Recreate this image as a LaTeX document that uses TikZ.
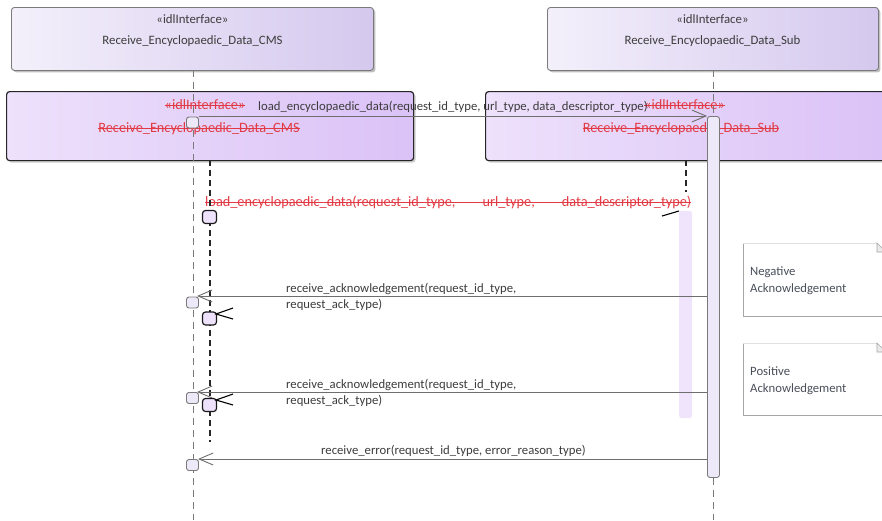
\documentclass[tikz,border=0pt]{standalone}
\usepackage{fontspec}
\setmainfont{Carlito}
\usetikzlibrary{arrows.meta,shadows}
\definecolor{txt}{HTML}{3C3C3C}
\definecolor{redtxt}{HTML}{E23A44}
\definecolor{lineg}{HTML}{6E6E6E}
\definecolor{lifeg}{HTML}{7A7A7A}
\definecolor{topL}{HTML}{F3F0FB}
\definecolor{topR}{HTML}{D5C8EE}
\definecolor{bigL}{HTML}{EDE1FB}
\definecolor{bigR}{HTML}{DBC2F7}
\definecolor{actfill}{HTML}{EDE9F8}
\definecolor{ghost}{HTML}{EFE4FC}
\definecolor{notetxt}{HTML}{4A4F5A}
\tikzset{
  topbox/.style={draw=lifeg, line width=0.9pt, rounded corners=3pt, left color=topL, right color=topR,
    anchor=north west, inner sep=0pt,
    drop shadow={shadow xshift=2pt,shadow yshift=-2pt,opacity=0.25,fill=black}},
  bigbox/.style={draw=black!85, line width=1.2pt, rounded corners=3pt, left color=bigL, right color=bigR,
    anchor=north west, inner sep=0pt,
    drop shadow={shadow xshift=2pt,shadow yshift=-2pt,opacity=0.2,fill=black}},
  blacktext/.style={text=txt, font=\fontsize{12.8}{16}\selectfont, inner sep=0pt, anchor=base},
  redtext/.style={text=redtxt, font=\fontsize{14.3}{17}\selectfont, inner sep=0pt, anchor=base},
  msglabel/.style={text=txt, font=\fontsize{12.7}{16}\selectfont, inner sep=0pt, anchor=base west, align=left},
  notelabel/.style={text=notetxt, font=\fontsize{12.7}{17}\selectfont, inner sep=0pt, anchor=base west, align=left},
  grayline/.style={draw=lifeg, line width=0.9pt, dash pattern=on 7pt off 5pt},
  blackline/.style={draw=black!85, line width=1.2pt, dash pattern=on 6pt off 4pt},
  msg/.style={draw=lineg, line width=0.9pt},
  opentip/.style={-{Straight Barb[length=14pt,width=12pt,line width=0.9pt]}},
  graysq/.style={draw=lifeg, line width=0.9pt, fill=actfill, rounded corners=2.5pt, minimum width=12pt, minimum height=11pt, inner sep=0pt},
  blacksq/.style={draw=black!90, line width=1.2pt, fill=bigL, rounded corners=3pt, minimum width=14pt, minimum height=13pt, inner sep=0pt},
  strike/.style={draw=redtxt, line width=1pt},
  notebox/.style={draw=black!35, line width=0.8pt},
}
\begin{document}
\begin{tikzpicture}[x=1pt,y=-1pt]
\useasboundingbox (0,0) rectangle (882,520);
\clip (0,0) rectangle (882,520);

% big (struck-out) boxes
\node[bigbox, minimum width=407pt, minimum height=69pt] (bigA) at (6,91) {};
\node[bigbox, minimum width=405pt, minimum height=69pt] (bigB) at (485,91) {};

% top boxes
\node[topbox, minimum width=362pt, minimum height=63pt] (topA) at (11,7) {};
\node[topbox, minimum width=331pt, minimum height=63pt] (topB) at (547,7) {};
\node[blacktext] (topAst) at (192.5,23) {«idlInterface»};
\node[blacktext] (topAnm) at (192.5,44) {Receive\_Encyclopaedic\_Data\_CMS};
\node[blacktext] (topBst) at (712.5,23) {«idlInterface»};
\node[blacktext] (topBnm) at (712.5,44) {Receive\_Encyclopaedic\_Data\_Sub};

% red struck-out texts
\node[redtext] (bigAst) at (205,109.5) {«idlInterface»};
\node[redtext] (bigAnm) at (199,132.5) {Receive\_Encyclopaedic\_Data\_CMS};
\node[redtext] (bigBst) at (684.5,109.5) {«idlInterface»};
\node[redtext] (bigBnm) at (681,132.5) {Receive\_Encyclopaedic\_Data\_Sub};
\node[redtext, anchor=base west] (loadR) at (205,206.5) {load\_encyclopaedic\_data(request\_id\_type,\hspace{27pt}url\_type,\hspace{27pt}data\_descriptor\_type)};
\foreach \n in {bigAst,bigAnm,bigBst,bigBnm,loadR}
  \draw[strike] ([yshift=3.6pt]\n.base west) -- ([yshift=3.6pt]\n.base east);

% lifelines
\coordinate (llA0) at (193,70);
\coordinate (llA1) at (193,520);
\coordinate (llB0) at (713,70);
\coordinate (llB1) at (713,520);
\draw[grayline] (llA0) -- (llA1);
\draw[grayline] (llB0) -- (llB1);
\coordinate (blA0) at (210,160);
\coordinate (blA1) at (210,442);
\coordinate (blB0) at (686,160);
\coordinate (blB1) at (686,192);
\draw[blackline] (blA0) -- (blA1);
\draw[blackline] (blB0) -- (blB1);

% ghost activation bar
\fill[ghost, rounded corners=2.5pt] (679,211) rectangle (692,418);
% stray tick
\coordinate (tk0) at (662,216);
\coordinate (tk1) at (679,211);
\draw[black, line width=1.1pt] (tk0) -- (tk1);

% activation bar on Sub
\node[draw=lifeg, line width=0.9pt, fill=actfill, rounded corners=2.5pt, anchor=north west,
  minimum width=12pt, minimum height=361pt, inner sep=0pt] (act) at (707,116) {};

% notes
\fill[white] (743,243) rectangle (890,316);
\draw[notebox] (743,243) -- (743,316) -- (890,316);
\draw[draw=black!12, line width=0.6pt] (743,243) -- (877,243);
\filldraw[fill=black!8, draw=black!35, line width=0.6pt] (877,243) -- (877,252) -- (886,252) -- cycle;
\node[notelabel] (noteN) at (750,292) {Negative\\Acknowledgement};
\fill[white] (743,343) rectangle (890,415);
\draw[notebox] (743,343) -- (743,415) -- (890,415);
\draw[draw=black!12, line width=0.6pt] (743,343) -- (877,343);
\filldraw[fill=black!8, draw=black!35, line width=0.6pt] (877,343) -- (877,352) -- (886,352) -- cycle;
\node[notelabel] (noteP) at (750,392) {Positive\\Acknowledgement};

% messages
\coordinate (m1s) at (199,116);
\coordinate (m1e) at (707,116);
\draw[msg, opentip] (m1s) -- (m1e);
\node[msglabel] (m1l) at (258,110) {load\_encyclopaedic\_data(request\_id\_type, url\_type, data\_descriptor\_type)};

\coordinate (m2s) at (707,296);
\coordinate (m2e) at (197,296);
\draw[msg, opentip] (m2s) -- (m2e);
\node[msglabel] (m2l) at (286,308) {receive\_acknowledgement(request\_id\_type,\\request\_ack\_type)};

\coordinate (m3s) at (707,392);
\coordinate (m3e) at (197,392);
\draw[msg, opentip] (m3s) -- (m3e);
\node[msglabel] (m3l) at (286,404) {receive\_acknowledgement(request\_id\_type,\\request\_ack\_type)};

\coordinate (m4s) at (707,459);
\coordinate (m4e) at (198,459);
\draw[msg, opentip] (m4s) -- (m4e);
\node[msglabel] (m4l) at (321,454) {receive\_error(request\_id\_type, error\_reason\_type)};

% gray execution markers
\node[graysq] (g1) at (192.5,122.5) {};
\node[graysq] (g2) at (192.5,302.5) {};
\node[graysq] (g3) at (192.5,398) {};
\node[graysq] (g4) at (192.5,465) {};

% black markers
\node[blacksq] (b1) at (209.5,217) {};
\node[blacksq] (b2) at (209.5,318.5) {};
\node[blacksq] (b3) at (209.5,405) {};

% stray black arrow heads
\coordinate (h1) at (216,314);
\coordinate (h2) at (216,400);
\foreach \h in {h1,h2}
  \draw[black, line width=1.1pt] ([shift={(17pt,6pt)}]\h) -- (\h) -- ([shift={(17pt,-5pt)}]\h);
\end{tikzpicture}
\end{document}
